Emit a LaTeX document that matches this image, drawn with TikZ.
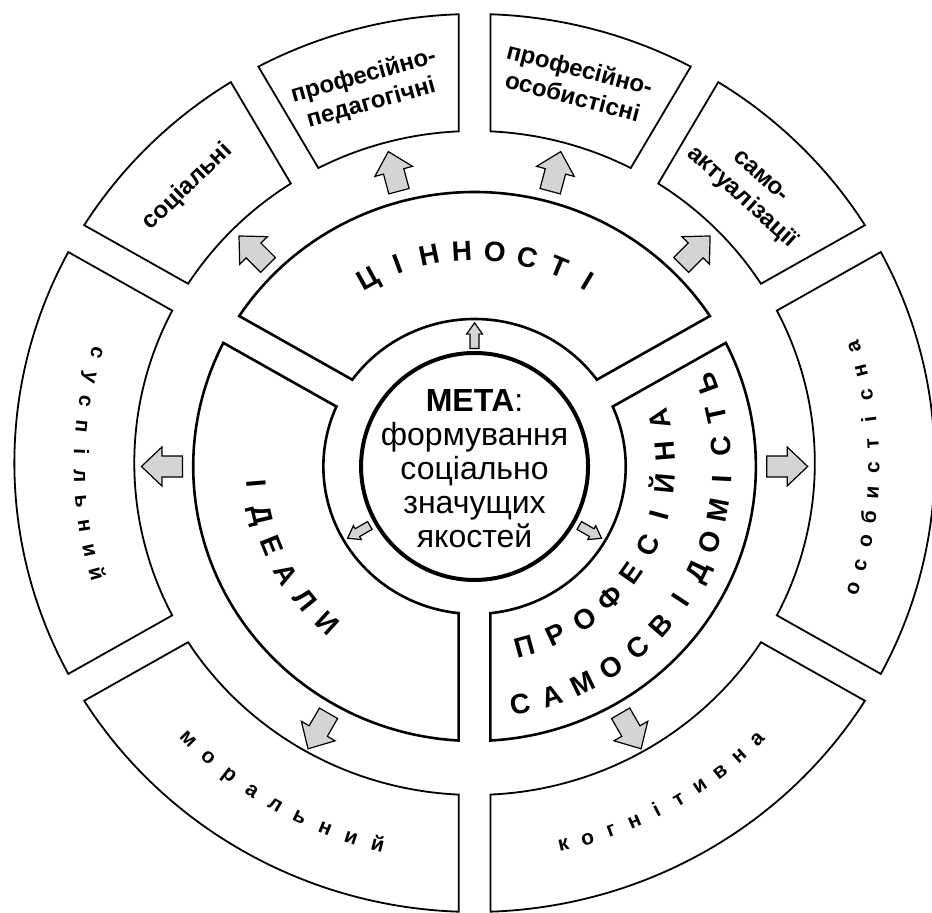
\documentclass[tikz,border=0pt]{standalone}
\usepackage{fontspec}
\setmainfont{Liberation Sans}
\def\rmeta{113.5}
\def\rinner{147.5}
\def\rmid{274.5}
\def\rring{332}
\def\rout{449}
\def\gap{15.5}
\usepackage{tikz}
\definecolor{arrowgray}{RGB}{212,212,212}

\begin{document}
\begin{tikzpicture}[x=0.5125pt, y=0.5pt, line join=miter]
		\tikzstyle{segment}=[draw=black, line width=0.9pt, fill=white]
		\tikzstyle{main segment}=[segment, line width=1.3pt]
		\tikzstyle{block}=[draw=black, line width=0.6pt, fill=arrowgray]
		\tikzstyle{goal}=[circle, draw, line width=2pt, minimum size=113.5pt, inner sep=0pt]
		\tikzstyle{goal text}=[align=center, inner sep=0pt, font=\fontsize{16}{17}\selectfont]
		\tikzstyle{ring letter}=[anchor=base, inner sep=0pt, font=\bfseries\fontsize{14}{14}\selectfont]
		\tikzstyle{outer letter}=[anchor=base, inner sep=0pt, font=\bfseries\fontsize{10.5}{10.5}\selectfont]
		\tikzstyle{box label}=[align=center, inner sep=0pt, font=\bfseries\fontsize{12}{14.2}\selectfont]
		\tikzset{
			big arrow/.pic={\path[block] (0,-10.5) -- (20,-10.5) -- (20,-19.5) -- (40,0) -- (20,19.5) -- (20,10.5) -- (0,10.5) -- cycle;},
			small arrow/.pic={\path[block] (0,-4.5) -- (14,-4.5) -- (14,-8) -- (25,0) -- (14,8) -- (14,4.5) -- (0,4.5) -- cycle;}
		}
		\useasboundingbox (-463,-446.5) rectangle (446.3,466.5);
		\clip (-463,-446.5) rectangle (446.3,466.5);
		
		% Draw the outer ring of boxes
		\begin{scope}[shift={(0,3.5)}]
		\foreach \a/\b in {30/60,60/90,90/120,120/150,150/210,210/270,270/330,330/390}
		\draw[segment] ({\a+asin(\gap/\rring)}:\rring) -- ({\a+asin(\gap/\rout)}:\rout)
		arc[start angle={\a+asin(\gap/\rout)}, end angle={\b-asin(\gap/\rout)}, radius=\rout]
		-- ({\b-asin(\gap/\rring)}:\rring)
		arc[start angle={\b-asin(\gap/\rring)}, end angle={\a+asin(\gap/\rring)}, radius=\rring] -- cycle;
		\end{scope}
		
		% Draw the three middle sectors
		\foreach \a/\b in {30/150,150/270,270/390}
		\draw[main segment] ({\a+asin(\gap/\rinner)}:\rinner) -- ({\a+asin(\gap/\rmid)}:\rmid)
		arc[start angle={\a+asin(\gap/\rmid)}, end angle={\b-asin(\gap/\rmid)}, radius=\rmid]
		-- ({\b-asin(\gap/\rinner)}:\rinner)
		arc[start angle={\b-asin(\gap/\rinner)}, end angle={\a+asin(\gap/\rinner)}, radius=\rinner] -- cycle;
		
		% Draw the goal in the middle
		\node[goal] (meta) at (0,0) {};
		\node[goal text] (meta-text) at (0,-2.5) {\textbf{МЕТА}:\\формування\\соціально\\значущих\\якостей};
		
		% Arrows out of the goal and out of the sectors
		\foreach \ang in {90,210,330}
		\pic[rotate=\ang] at (\ang:118) {small arrow};
		\foreach \ang in {0,45,75,105,135,180,240,300}
		\pic[rotate=\ang] at (\ang:285) {big arrow};
		
		% Letters of the sectors
		\foreach \ch [count=\i] in {Ц,І,Н,Н,О,С,Т,І}
		\node[ring letter, rotate={119-(\i-1)*8.57-90}] (val-\i) at ({119-(\i-1)*8.57}:206) {\ch};
		\foreach \ch [count=\i] in {І,Д,Е,А,Л,И}
		\node[ring letter, rotate={184.7+(\i-1)*8.58+90}] (ide-\i) at ({184.7+(\i-1)*8.58}:222.5) {\ch};
		\foreach \ch [count=\i] in {П,Р,О,Ф,Е,С,І,Й,Н,А}
		\node[ring letter, rotate={285.2+(\i-1)*9.93+90}] (pro-\i) at ({285.2+(\i-1)*9.93}:196) {\ch};
		\foreach \ch [count=\i] in {С,А,М,О,С,В,І,Д,О,М,І,С,Т,Ь}
		\node[ring letter, rotate={280.6+(\i-1)*7.65+90}] (sam-\i) at ({280.6+(\i-1)*7.65}:251) {\ch};
		
		% Letters of the outer boxes
		\foreach \ch [count=\i] in {с,у,с,п,і,л,ь,н,и,й}
		\node[outer letter, rotate={162.9+(\i-1)*3.71+90}] (sus-\i) at ({162.9+(\i-1)*3.71}:391) {\ch};
		\foreach \ch [count=\i] in {м,о,р,а,л,ь,н,и,й}
		\node[outer letter, rotate={224.3+(\i-1)*3.96+90}] (mor-\i) at ({224.3+(\i-1)*3.96}:396) {\ch};
		\foreach \ch [count=\i] in {к,о,г,н,і,т,и,в,н,а}
		\node[outer letter, rotate={282.9+(\i-1)*3.6+90}] (kog-\i) at ({282.9+(\i-1)*3.6}:394) {\ch};
		\foreach \ch [count=\i] in {о,с,о,б,и,с,т,і,с,н,а}
		\node[outer letter, rotate={-18.35+(\i-1)*3.625+90}] (oso-\i) at ({-18.35+(\i-1)*3.625}:395) {\ch};
		
		% Annotate the upper boxes
		\node[box label, rotate=44] (soc) at (135:396) {соціальні};
		\node[box label, rotate=15.5] (ped) at (105.5:391) {професійно-\\педагогічні};
		\node[box label, rotate=-14.5] (osob) at (75.5:397) {професійно-\\особистісні};
		\node[box label, rotate=-42] (akt) at (46:387) {само-\\актуалізації};
		
	\end{tikzpicture}
\end{document}
